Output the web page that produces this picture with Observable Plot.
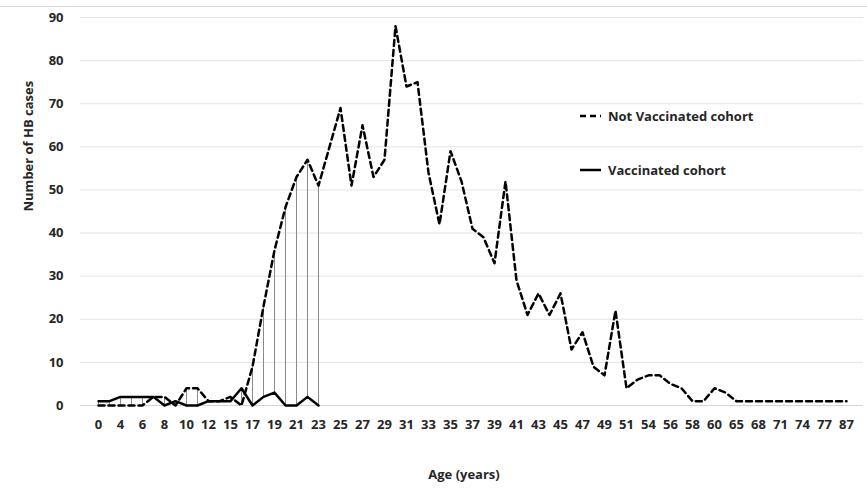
<!DOCTYPE html>
<html><head><meta charset="utf-8">
<script src="https://cdn.jsdelivr.net/npm/d3@7"></script>
<script src="https://cdn.jsdelivr.net/npm/@observablehq/plot@0.6"></script>
<style>html,body{margin:0;padding:0;background:#fff} svg{display:block}</style>
</head><body><div id="chart"></div>
<script>
// Age categories (only the ages present in the data; every other one is labelled)
const ages = ["0","2","4","5","6","7","8","9","10","11","12","14","15","16",
  "17","18","19","20","21","22","23","24","25","26","27","28","29","30","31","32","33","34",
  "35","36","37","38","39","40","41","42","43","44","45","46","47","48","49","50","51",
  "53","54","55","56","57","58","59","60","62","65","66","68","70","71","72","74","75","77","80","87"];
// Number of HB cases, not vaccinated cohort (one value per age category)
const notVaccinated = [0,0,0,0,0,2,2,0,4,4,1,1,2,0,
  9,23,36,46,53,57,51,60,69,51,65,53,57,88,74,75,54,42,
  59,52,41,39,33,52,29,21,26,21,26,13,17,9,7,22,4,
  6,7,7,5,4,1,1,4,3,1,1,1,1,1,1,1,1,1,1,1];
// Number of HB cases, vaccinated cohort (ages 0 to 23 only)
const vaccinated = [1,1,2,2,2,2,0,1,0,0,1,1,1,4,0,2,3,0,0,2,0];
const yTicks = [0,10,20,30,40,50,60,70,80,90];
const seriesNames = ["Not Vaccinated cohort","Vaccinated cohort"];
const xTitle = "Age (years)";
const yTitle = "Number of HB cases";

const nv = ages.map((a,i)=>({age:a, value:notVaccinated[i]}));
const vc = vaccinated.map((v,i)=>({age:ages[i], value:v}));
const hl = vc.map((d,i)=>({age:d.age, lo:Math.min(d.value, notVaccinated[i]), hi:Math.max(d.value, notVaccinated[i])}));

const FONT = "'Open Sans', sans-serif";
const W = 867, H = 492;
const chart = Plot.plot({
  width: W, height: H,
  marginLeft: 80, marginRight: 4, marginTop: 17, marginBottom: 87,
  style: {fontFamily: FONT, fontSize: "13px", fontWeight: 700, color: "#262626", background: "#fff", overflow: "visible"},
  x: {type: "point", domain: ages, padding: 0.5, label: null},
  y: {domain: [0, 90], label: null},
  marks: [
    Plot.gridY(yTicks.slice(1), {stroke: "#e3e3e3", strokeOpacity: 1}),
    Plot.ruleY([0], {stroke: "#d4d4d4"}),
    Plot.axisX({ticks: ages.filter((d,i)=>i%2===0), tickSize: 0, tickPadding: 14, fontWeight: 700}),
    Plot.axisY({ticks: yTicks, tickSize: 0, tickPadding: 17, fontWeight: 700}),
    Plot.ruleX(hl, {x: "age", y1: "lo", y2: "hi", stroke: "#8a8a8a", strokeWidth: 1}),
    Plot.line(nv, {x: "age", y: "value", stroke: "#000", strokeWidth: 2.5, strokeDasharray: "6,4"}),
    Plot.line(vc, {x: "age", y: "value", stroke: "#000", strokeWidth: 2.5}),
    Plot.text([yTitle], {frameAnchor: "left", dx: -52, rotate: -90, fontSize: 13, fontWeight: 700, fill: "#262626"}),
    Plot.text([xTitle], {frameAnchor: "bottom", dy: 73, dx: -8, fontSize: 13, fontWeight: 700, fill: "#262626"})
  ]
});

const svg = d3.select(chart);
svg.insert("line", ":first-child").attr("x1", 0).attr("x2", W).attr("y1", 6.5).attr("y2", 6.5)
  .attr("stroke", "#d9d9d9");
const leg = svg.append("g").attr("font-family", FONT).attr("font-size", 13).attr("font-weight", 700)
  .attr("fill", "#262626").attr("text-anchor", "start");
const legY = [116, 170];
const legDash = ["6,4", null];
seriesNames.forEach((name, i) => {
  const g = leg.append("g").attr("transform", `translate(580,${legY[i]})`);
  const ln = g.append("line").attr("x1", 0).attr("x2", 21).attr("stroke", "#000").attr("stroke-width", 2.5);
  if (legDash[i]) ln.attr("stroke-dasharray", legDash[i]);
  g.append("text").attr("x", 28).attr("dy", "0.35em").attr("text-anchor", "start").text(name);
});
document.getElementById("chart").appendChild(chart);
</script>
</body></html>
